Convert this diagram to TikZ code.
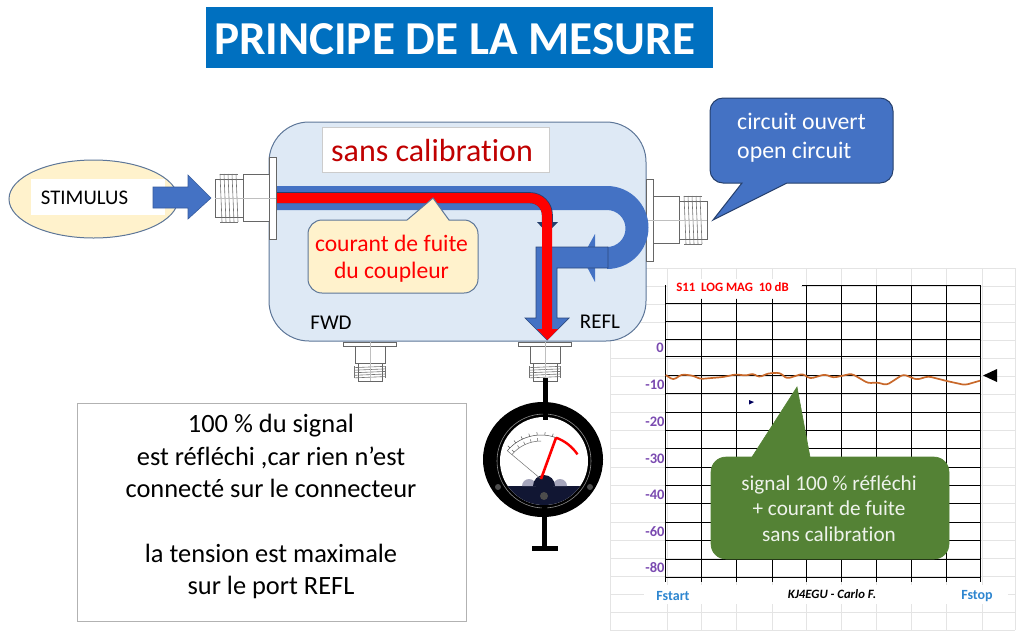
\documentclass[tikz,border=0pt]{standalone}
\usepackage{fontspec}
\setmainfont[Ligatures=NoCommon]{Carlito}
\usetikzlibrary{calc}

\definecolor{boxblue}{HTML}{DEE9F5}
\definecolor{edgeblue}{HTML}{5D7698}
\definecolor{flowblue}{HTML}{4472C4}
\definecolor{titleblue}{HTML}{0070C0}
\definecolor{paleyellow}{HTML}{FFF2CC}
\definecolor{darkred}{HTML}{C00000}
\definecolor{sheetgrey}{HTML}{E4E4E4}
\definecolor{tracebrown}{HTML}{C8682A}
\definecolor{scalepurple}{HTML}{7A4AB0}
\definecolor{callgreen}{HTML}{548235}
\definecolor{freqblue}{HTML}{2E86D0}
\definecolor{meternavy}{HTML}{111633}

\tikzset{
    txt/.style={inner sep=0pt, align=center},
    ylabel/.style={txt, text=scalepurple, font=\fontsize{14.5}{14.5}\selectfont\bfseries},
    freq/.style={txt, text=freqblue, font=\fontsize{14}{14}\selectfont\bfseries},
    pics/sma/.style={code={
        \filldraw[fill=white, draw=black!60, line width=0.6pt] (-7,-41) rectangle (0,41);
        \filldraw[fill=white, draw=black!60, line width=0.6pt] (-33,-23.5) rectangle (-7,23.5);
        \filldraw[fill=white, draw=black!60, line width=0.6pt] (-61,-19) rectangle (-33,19);
        \foreach \tx in {-56,-52,-48,-44,-40}
            \draw[black!55, line width=0.6pt] (\tx,-24) -- ($(\tx,24)+(2,0)$);
        \draw[black!55, line width=0.6pt] (-56,-24) -- (-38,-24) (-56,24) -- (-38,24);
        \draw[black!25, line width=0.5pt] (-61,0) -- (0,0);
    }}
}

\begin{document}
\begin{tikzpicture}[x=1pt, y=-1pt]
    \useasboundingbox (0,0) rectangle (1024,638);

    % Title
    \fill[titleblue] (206,7) rectangle (713,68);
    \node[txt, text=white, font=\fontsize{47.2}{47.2}\selectfont\bfseries] (title) at (454.5,39) {PRINCIPE DE LA MESURE};

    % Sheet grid behind the chart
    \foreach \gx in {610,667,701,736,772,806,841,876,911,946,982,1015}
        \draw[sheetgrey, line width=1pt] (\gx,268) -- (\gx,630);
    \foreach \gy in {268,286,304,322,340,358,376,394,412,430,448,467,485,503,522,540,558,576,594,612,630}
        \draw[sheetgrey, line width=1pt] (610,\gy) -- (1015,\gy);

    % Coupler box
    \filldraw[fill=boxblue, draw=edgeblue, line width=1pt, rounded corners=40pt] (269,122) rectangle (646,341);
    \node[draw=black!20, fill=white, minimum width=227pt, minimum height=45pt, inner sep=0pt] (sanscal) at (435.5,149.5) {};
    \node[txt, text=darkred, font=\fontsize{32}{32}\selectfont, anchor=west] (sanscaltext) at (331,151) {sans calibration};

    % Connectors
    \pic at (276,198) {sma};
    \pic[rotate=180] at (646,220) {sma};
    \pic[rotate=90, scale=0.64] at (370,342) {sma};
    \pic[rotate=90, scale=0.64] at (545,342) {sma};

    % Stimulus
    \filldraw[fill=paleyellow, draw=edgeblue, line width=1pt] (93.5,199) ellipse [x radius=84.5pt, y radius=39pt];
    \fill[white] (31,179) rectangle (165,215);
    \node[txt, font=\fontsize{20.8}{20.8}\selectfont] (stimulus) at (84.5,198) {STIMULUS};
    \filldraw[fill=flowblue, draw=black!20!flowblue, line width=0.6pt]
        (153,187) -- (188,187) -- (188,175) -- (211,198) -- (188,219) -- (188,208) -- (153,208) -- cycle;

    % Reflected signal
    \fill[flowblue] (277,186) -- (607,186) arc[start angle=90, end angle=-90, radius=41.5pt]
        -- (607,247) arc[start angle=-90, end angle=90, radius=18.5pt] -- (277,210) -- cycle;
    \fill[flowblue] (595,234) -- (582,257.5) -- (595,282) -- cycle;
    \filldraw[fill=flowblue, draw=black!35!flowblue, line width=0.7pt]
        (536,247) -- (608,247) -- (608,268) -- (557,268) -- (557,318) -- (569,318)
        -- (547,340) -- (525,318) -- (536,318) -- cycle;

    % Leak current
    \draw[black!45!flowblue, line width=11pt] (277,197.7) -- (530,197.7) arc[start angle=90, end angle=0, radius=17.3pt] -- (547.3,222);
    \fill[black!45!flowblue] (537,222) -- (558,222) -- (547,233) -- cycle;
    \draw[red, line width=10pt] (277,198) -- (530,198) arc[start angle=90, end angle=0, radius=17pt] -- (547,330);
    \fill[red] (537,329) -- (558,329) -- (547.5,340) -- cycle;

    % Leak callout
    \filldraw[fill=paleyellow, draw=edgeblue, line width=1pt] (380,220) [sharp corners] -- (407,220) -- (433,198)
        -- (449,220) [rounded corners=14pt] -- (478,220) -- (478,293) -- (308,293) -- (308,220) -- cycle;
    \node[txt, text=red, font=\fontsize{23.6}{27}\selectfont] (leak) at (391.5,258.5) {courant de fuite\\du coupleur};

    % Port labels
    \node[txt, font=\fontsize{21}{21}\selectfont] (fwd) at (331,323) {FWD};
    \node[txt, font=\fontsize{21}{21}\selectfont] (refl) at (600,322) {REFL};

    % Open circuit callout
    \filldraw[fill=flowblue, draw=black!45!flowblue, line width=1pt] (800,98) [rounded corners=13pt] -- (893,98)
        -- (893,183) [sharp corners] -- (787,183) -- (713,220) -- (742,183) [rounded corners=13pt] -- (710,183)
        -- (710,98) -- cycle;
    \node[txt, text=white, font=\fontsize{23.8}{29}\selectfont, align=left, anchor=west] (open) at (737,137.5)
        {circuit ouvert\\open circuit};

    % Explanation
    \node[draw=black!30, minimum width=389pt, minimum height=218pt, inner sep=0pt] (note) at (271.5,512) {};
    \node[txt, font=\fontsize{26.4}{32.3}\selectfont] (notetext) at (271,506.5)
        {100 \% du signal\\est réfléchi ,car rien n{\char"27}est\\connecté sur le connecteur\\[32.3pt]la tension est maximale\\sur le port REFL};

    % Meter
    \fill[black] (543,459.5) ellipse [x radius=60pt, y radius=57.5pt];
    \draw[black!45, line width=0.6pt] (544,461) circle (47pt);
    \fill[white] (544,461) circle (44pt);
    \begin{scope}
        \clip (544,461) circle (44pt);
        \fill[meternavy] (490,486) rectangle (600,510);
    \end{scope}
    \fill[blue!25!black!35] (522,486) arc[start angle=180, end angle=0, radius=7pt] -- cycle;
    \fill[blue!25!black!35] (553,486) arc[start angle=180, end angle=0, radius=7pt] -- cycle;
    \fill[meternavy] (533,486) arc[start angle=180, end angle=0, radius=11pt] -- cycle;
    \fill[black!70] (498,487) circle (3pt) (590,487) circle (3pt) (544,496) circle (4pt);
    \begin{scope}[shift={(541,479)}, y=1pt]
        \draw[black!70, line width=0.5pt] (140:44pt) arc[start angle=140, end angle=70, radius=44pt];
        \draw[black!60, line width=0.5pt] (140:38pt) arc[start angle=140, end angle=90, radius=38pt];
        \foreach \ta in {75,85,...,135}
            \draw[black!70, line width=0.5pt] (\ta:44pt) -- (\ta:47pt);
        \foreach \ta in {95,105,...,135}
            \draw[black!60, line width=0.5pt] (\ta:38pt) -- (\ta:41pt);
        \draw[red, line width=2.4pt] (70:44pt) arc[start angle=70, end angle=34, radius=44pt];
        \draw[black!55, line width=0.5pt] (0,0) -- (140:44pt);
        \draw[red, line width=2.6pt] (0,0) -- (70:44pt);
    \end{scope}
    \draw[black, line width=5pt] (545,378) -- (545,420);
    \draw[black, line width=5pt] (544,505) -- (544,548);
    \draw[black, line width=5pt] (532,548) -- (558,548);

    % Chart grid
    \foreach \cx in {701,736,772}
        \draw[black, line width=1pt] (\cx,299) -- (\cx,582);
    \foreach \cx in {665.7,806,841,876,911,946,980}
        \draw[black, line width=1pt] (\cx,285) -- (\cx,582);
    \draw[black, line width=1pt] (802,285) -- (980,285);
    \foreach \cy in {303,321,339,356,375,393,412,430,448,467,485,503,522,540,559,577}
        \draw[black, line width=1pt] (665.7,\cy) -- (980,\cy);

    % Chart labels
    \fill[white] (668,279) rectangle (801,298);
    \node[txt, text=red, font=\fontsize{12.8}{12.8}\selectfont\bfseries] (s11) at (732.5,287) {S11\ \ LOG MAG\ \ 10 dB};
    \node[ylabel] at (660,348) {0};
    \node[ylabel] at (655,385) {-10};
    \node[ylabel] at (655,422) {-20};
    \node[ylabel] at (655,459) {-30};
    \node[ylabel] at (655,495) {-40};
    \node[ylabel] at (655,532) {-60};
    \node[ylabel] at (655,568) {-80};
    \fill[white] (644,585) rectangle (1008,604);
    \node[freq] (fstart) at (673,596) {Fstart};
    \node[freq] (fstop) at (977,596) {Fstop};
    \node[txt, font=\fontsize{12.7}{12.7}\selectfont\bfseries\itshape] (carlo) at (832,594) {KJ4EGU - Carlo F.};

    % Trace and marker
    \draw[tracebrown, line width=1.7pt, rounded corners=3pt] (665.7,375) -- (673.3,380) -- (681.7,374.3) -- (693.3,375.7)
        -- (700,379) -- (723.3,377) -- (736,374.3) -- (746.7,375.7) -- (752.7,373.3) -- (759,377.3) -- (768.3,373.3)
        -- (780,372.7) -- (786.7,378.7) -- (802.7,373.7) -- (810,378.7) -- (825,374.3) -- (833.3,377.7) -- (851.7,373.7)
        -- (868.3,383.3) -- (876.7,382.3) -- (886.7,385) -- (903.3,374.3) -- (916.7,379.7) -- (928.3,376.3)
        -- (946.7,381) -- (965,385) -- (980,380.7);
    \fill[black] (983,375.5) -- (997,369) -- (997,382) -- cycle;
    \fill[black!40!blue!60!black] (749,400) -- (754,402) -- (749,404.5) -- cycle;

    % Green callout
    \filldraw[fill=callgreen, draw=callgreen, line width=0.6pt] (780,457) [sharp corners] -- (752,457) -- (797,387)
        -- (810,457) [rounded corners=15pt] -- (949,457) -- (949,559) -- (711,559) -- (711,457) -- cycle;
    \node[txt, text=white!90!callgreen, font=\fontsize{21.2}{25.7}\selectfont] (green) at (829,508.5)
        {signal 100 \% réfléchi\\+ courant de fuite\\sans calibration};
\end{tikzpicture}
\end{document}
